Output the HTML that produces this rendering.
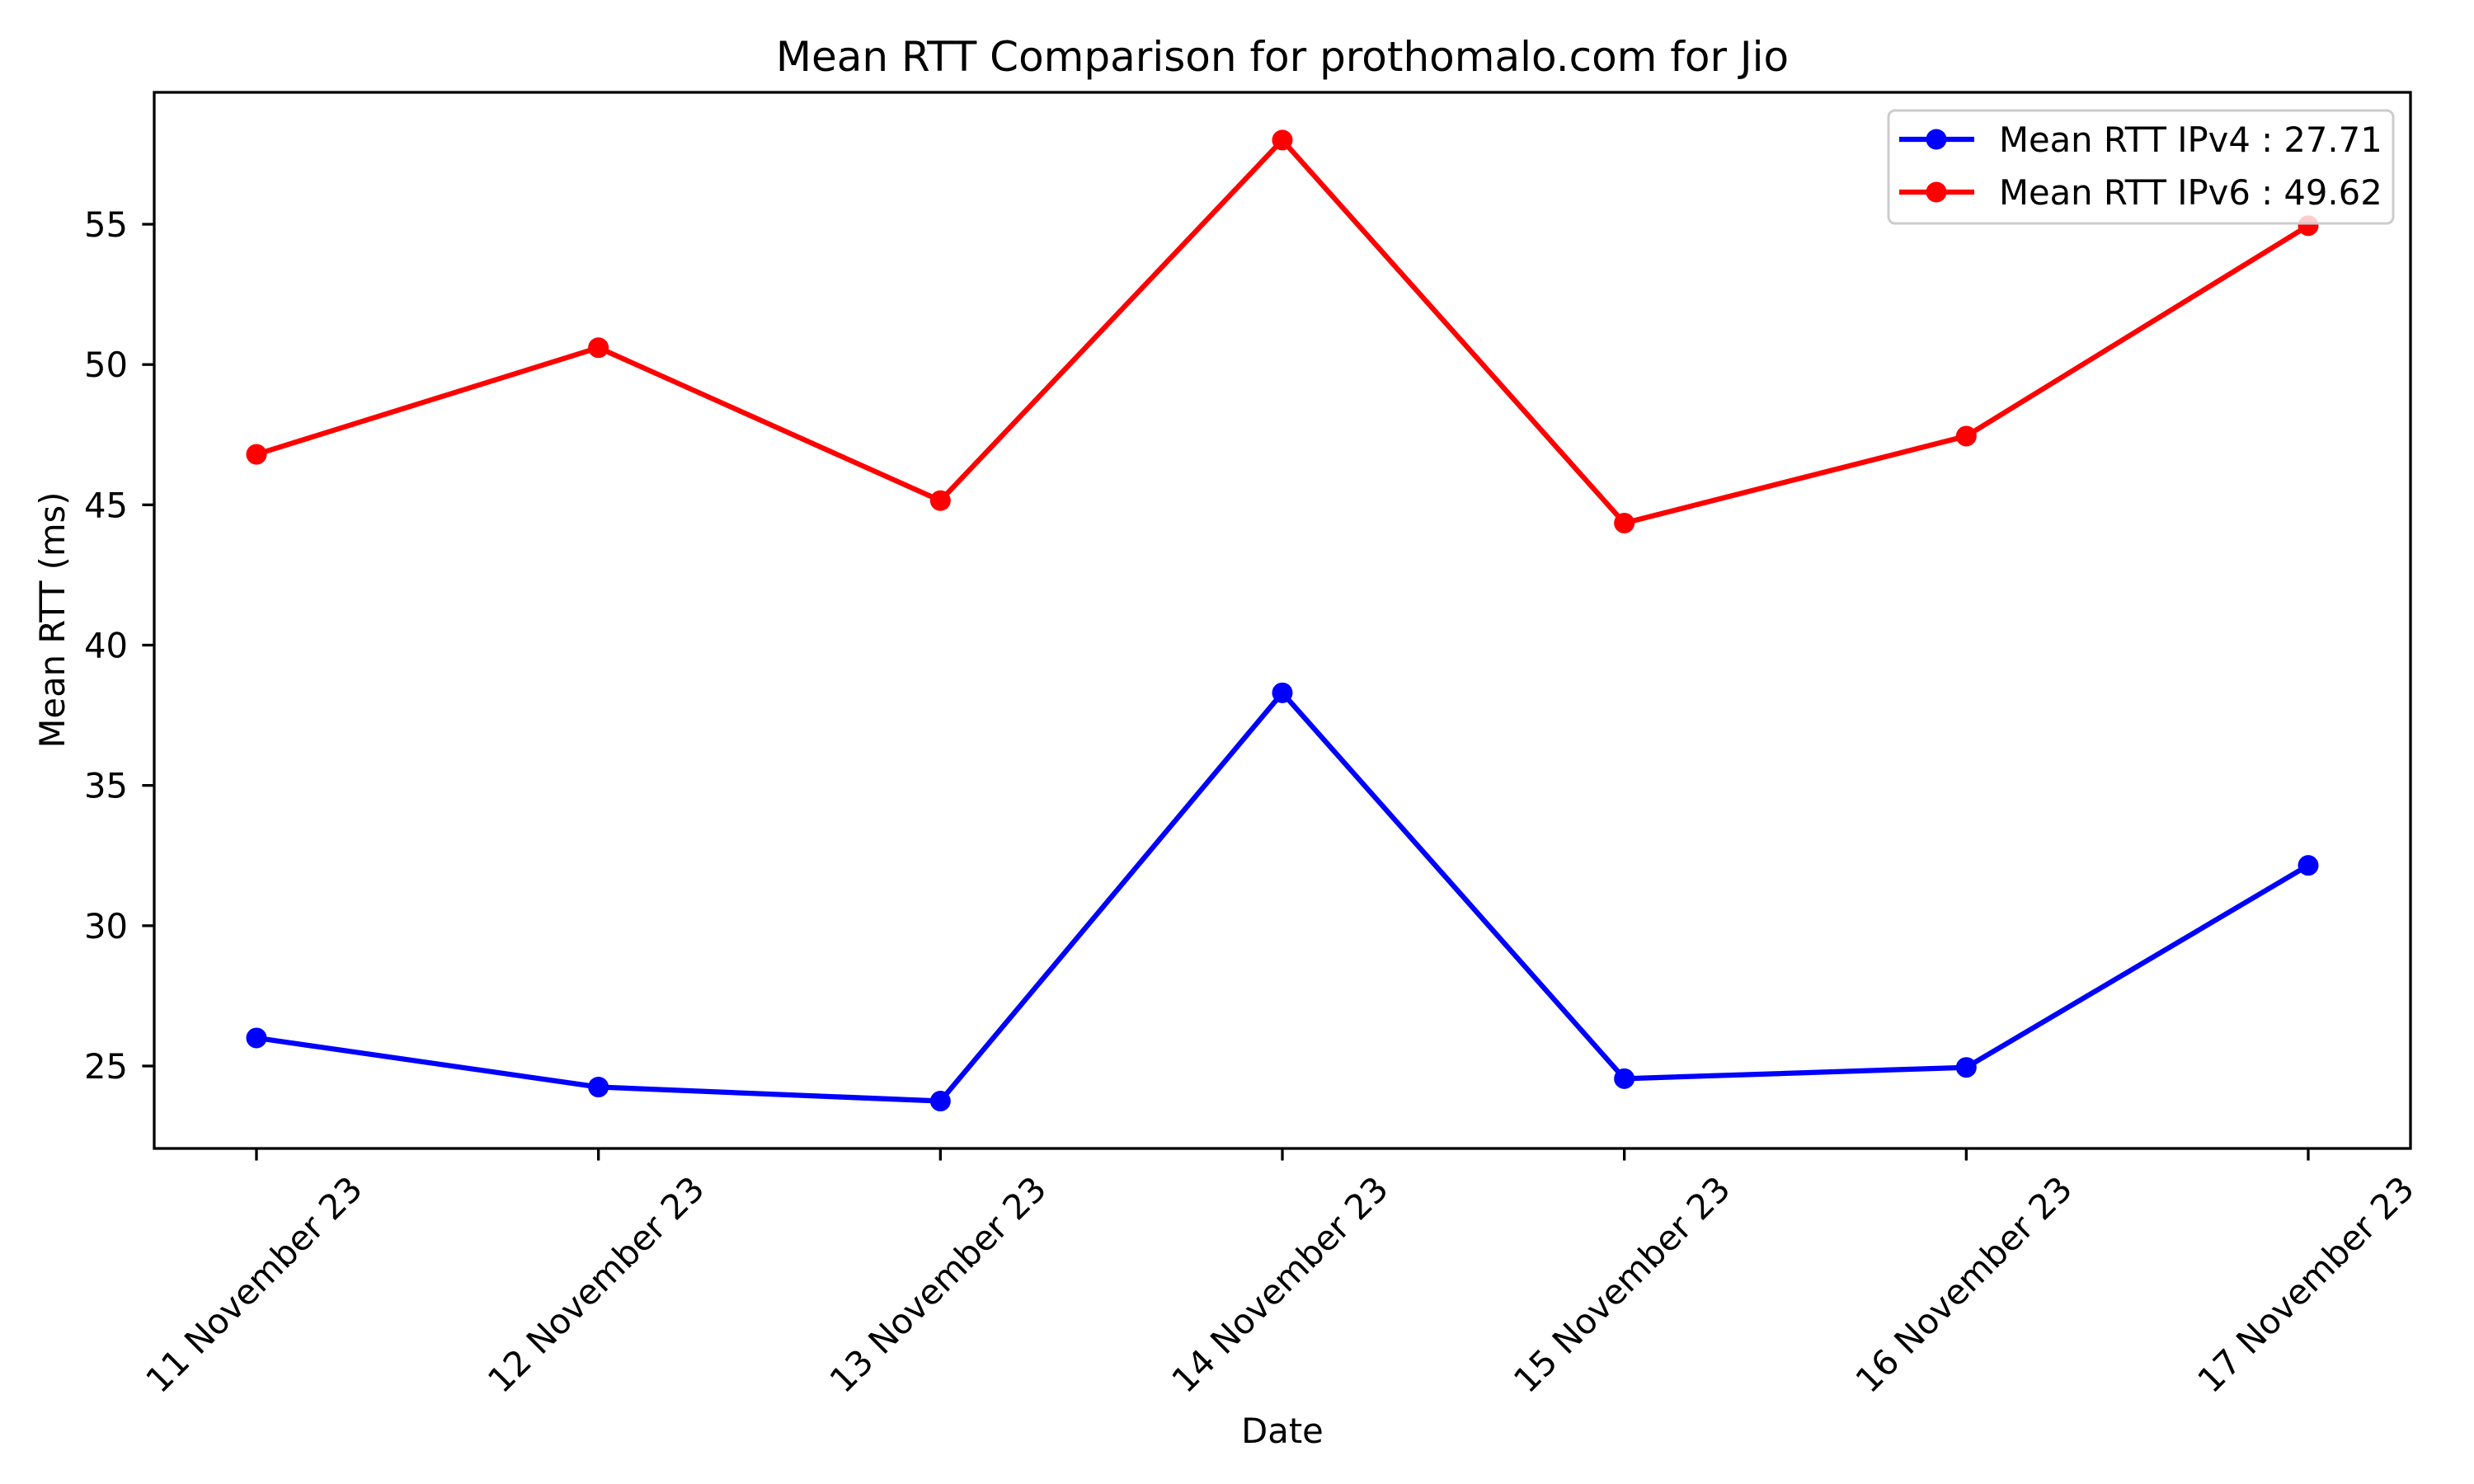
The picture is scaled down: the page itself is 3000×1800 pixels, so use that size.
<!DOCTYPE html>
<html><head><meta charset="utf-8"><style>
html,body{margin:0;padding:0;background:#fff;}
svg{display:block;font-family:"DejaVu Sans","Liberation Sans",sans-serif;}
</style></head><body>
<svg id="chart" width="3000" height="1800" viewBox="0 0 3000 1800" xmlns="http://www.w3.org/2000/svg">
<rect width="3000" height="1800" fill="#fff"/>
<text x="1555" y="86" font-size="50" text-anchor="middle">Mean RTT Comparison for prothomalo.com for Jio</text>
<text x="0" y="0" font-size="41.7" text-anchor="middle" transform="translate(78,752) rotate(-90)">Mean RTT (ms)</text>
<text x="1555" y="1750" font-size="41.7" text-anchor="middle">Date</text>
<g id="plot"></g>
<rect x="187" y="112" width="2736" height="1281" fill="none" stroke="#000" stroke-width="3.3"/>
<g>
<rect x="2290" y="134" width="612" height="137" rx="8" fill="#fff" fill-opacity="0.8" stroke="#ccc" stroke-width="3"/>
<line x1="2303" y1="169" x2="2394" y2="169" stroke="#0000ff" stroke-width="6.25"/>
<circle cx="2348" cy="169" r="12.5" fill="#0000ff"/>
<text x="2424" y="184" font-size="41.7">Mean RTT IPv4 : 27.71</text>
<line x1="2303" y1="233" x2="2394" y2="233" stroke="#ff0000" stroke-width="6.25"/>
<circle cx="2348" cy="233" r="12.5" fill="#ff0000"/>
<text x="2424" y="248" font-size="41.7">Mean RTT IPv6 : 49.62</text>
</g>
</svg>
<script>
const categories = ["11 November 23","12 November 23","13 November 23","14 November 23","15 November 23","16 November 23","17 November 23"];
const ipv4 = [26.0, 24.25, 23.75, 38.3, 24.55, 24.95, 32.15];
const ipv6 = [46.8, 50.6, 45.15, 58.0, 44.35, 47.45, 54.95];
const yTicks = [25, 30, 35, 40, 45, 50, 55];

const NS = "http://www.w3.org/2000/svg";
const g = document.getElementById("plot");
function xPos(i){ return 311 + i * (2799 - 311) / (categories.length - 1); }
function yPos(v){ return 1293 + (v - 25) * (272 - 1293) / 30; }
function mk(tag, attrs){ const e = document.createElementNS(NS, tag); for (const k in attrs) e.setAttribute(k, attrs[k]); g.appendChild(e); return e; }

yTicks.forEach(t => {
  const y = yPos(t);
  const tk = mk("line", {x1:187, x2:172.4, y1:y, y2:y, stroke:"#000", "stroke-width":3.3});
  
  
  const tx = mk("text", {x:155, y:y+15, "font-size":41.7, "text-anchor":"end"});
  
  
  tx.textContent = t;
});
categories.forEach((c, i) => {
  const x = xPos(i);
  const tk = mk("line", {x1:x, x2:x, y1:1393, y2:1407.6, stroke:"#000", "stroke-width":3.3});
  
  
  const tx = mk("text", {x:0, y:0, "font-size":41.7, "text-anchor":"middle", "dominant-baseline":"central", transform:`translate(${x-3},1558) rotate(-45)`});
  
  
  tx.textContent = c;
});
function series(vals, color, name){
  const pts = vals.map((v, i) => xPos(i) + "," + yPos(v)).join(" ");
  const pl = mk("polyline", {points:pts, fill:"none", stroke:color, "stroke-width":6.25, "stroke-linejoin":"round"});
  
  
  vals.forEach((v, i) => {
    const c = mk("circle", {cx:xPos(i), cy:yPos(v), r:12.5, fill:color});
    
    
  });
}
series(ipv6, "#ff0000", "ipv6");
series(ipv4, "#0000ff", "ipv4");
</script>
</body></html>
